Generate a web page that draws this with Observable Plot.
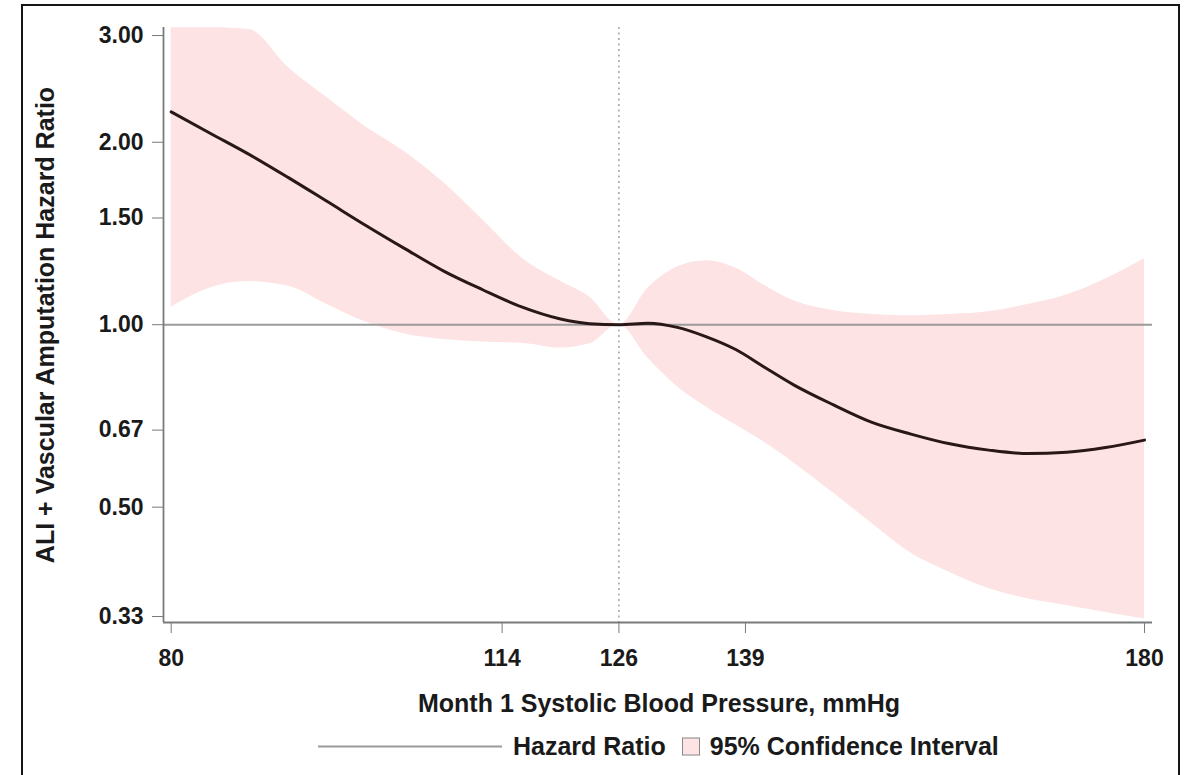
<!DOCTYPE html>
<html>
<head>
<meta charset="utf-8">
<script src="https://cdn.jsdelivr.net/npm/d3@7"></script>
<script src="https://cdn.jsdelivr.net/npm/@observablehq/plot@0.6"></script>
<style>
  html, body { margin: 0; padding: 0; background: #fff; overflow: hidden; }
  body { width: 1190px; height: 775px; position: relative; font-family: "Liberation Sans", Arial, sans-serif; }
  #border { position: absolute; left: 21px; top: 4px; width: 1159px; height: 800px; border: 2px solid #151515; border-bottom: none; box-sizing: border-box; }
  #chart { position: absolute; left: 0; top: 0; }
  .lbl { position: absolute; font-weight: bold; color: #1a1a1a; white-space: nowrap; }
  #ylabel { font-size: 25px; left: 45px; top: 325px; transform: translate(-50%, -50%) rotate(-90deg); }
  #xlabel { font-size: 25px; left: 659px; top: 703px; transform: translate(-50%, -50%); }
  #legend { position: absolute; top: 746px; left: 318px; transform: translateY(-50%); display: flex; align-items: center; font-weight: bold; font-size: 25px; color: #1a1a1a; white-space: nowrap; }
  #legend .ln { width: 184px; height: 0; border-top: 2px solid #9a9a9a; margin-right: 11px; }
  #legend .sq { width: 16px; height: 16px; background: #fde3e4; border: 1px solid #8a8a8a; margin: 0 10px 0 16px; }
</style>
</head>
<body>
<div id="border"></div>
<div id="chart"></div>
<div class="lbl" id="ylabel">ALI + Vascular Amputation Hazard Ratio</div>
<div class="lbl" id="xlabel">Month 1 Systolic Blood Pressure, mmHg</div>
<div id="legend"><div class="ln"></div><span>Hazard Ratio</span><div class="sq"></div><span>95% Confidence Interval</span></div>
<script>
// Systolic blood pressure (mmHg)
const sbp = [80, 84, 88, 92, 96, 100, 104, 108, 112, 116, 120, 123, 126, 129, 132, 135, 138, 141, 144, 148, 152, 156, 160, 164, 168, 172, 176, 180];
// Hazard ratio estimate
const hazardRatio = [2.245, 2.07, 1.91, 1.75, 1.598, 1.458, 1.335, 1.226, 1.142, 1.07, 1.022, 1.004, 1.0, 1.006, 0.99, 0.955, 0.91, 0.85, 0.795, 0.738, 0.69, 0.66, 0.636, 0.621, 0.613, 0.616, 0.627, 0.645];
// 95% CI lower / upper
const ciLower = [1.069, 1.15, 1.178, 1.158, 1.08, 1.01, 0.965, 0.945, 0.936, 0.932, 0.915, 0.93, 1.0, 0.88, 0.79, 0.731, 0.683, 0.639, 0.591, 0.528, 0.47, 0.42, 0.39, 0.367, 0.353, 0.344, 0.335, 0.327];
const ciUpper = [3.09, 3.09, 3.07, 2.66, 2.37, 2.12, 1.93, 1.715, 1.49, 1.29, 1.179, 1.11, 1.0, 1.15, 1.245, 1.275, 1.24, 1.16, 1.095, 1.055, 1.04, 1.035, 1.04, 1.05, 1.08, 1.12, 1.19, 1.285];
// Axis ticks
const xTicks = [80, 114, 126, 139, 180];
const yTicks = [0.33, 0.50, 0.67, 1.00, 1.50, 2.00, 3.00];
const refValue = 1;
const refSbp = 126;

const rows = sbp.map((x, i) => ({x, hr: hazardRatio[i], lo: ciLower[i], hi: ciUpper[i]}));
const xMin = 79.21, xMax = 180.82, yMin = 0.3226, yMax = 3.093;

const plot = Plot.plot({
  width: 1190,
  height: 680,
  marginTop: 27,
  marginLeft: 163,
  marginRight: 38,
  marginBottom: 58,
  style: {fontFamily: '"Liberation Sans", Arial, sans-serif', background: "transparent", overflow: "visible"},
  x: {domain: [xMin, xMax], ticks: xTicks, label: null},
  y: {type: "log", domain: [yMin, yMax], ticks: yTicks, tickFormat: d3.format(".2f"), label: null},
  marks: [
    Plot.areaY(rows, {x: "x", y1: "lo", y2: "hi", fill: "#fde3e4", curve: "monotone-x"}),
    Plot.ruleX([refSbp], {stroke: "#8c8c8c", strokeWidth: 1.2, strokeDasharray: "2,3.5"}),
    Plot.ruleY([refValue], {stroke: "#9a9a9a", strokeWidth: 2}),
    Plot.line(rows, {x: "x", y: "hr", stroke: "#2a1818", strokeWidth: 3, curve: "monotone-x"}),
    Plot.ruleX([xMin], {stroke: "#7a7a7a", strokeWidth: 1.8}),
    Plot.ruleY([yMin], {stroke: "#7a7a7a", strokeWidth: 1.8}),
    Plot.axisX({ticks: xTicks, tickSize: 11, tickPadding: 16, stroke: "#7a7a7a", fill: "#1a1a1a", fontSize: 23, fontWeight: "bold", label: null}),
    Plot.axisY({ticks: yTicks, tickFormat: d3.format(".2f"), tickSize: 11, tickPadding: 9, stroke: "#7a7a7a", fill: "#1a1a1a", fontSize: 23, fontWeight: "bold", label: null})
  ]
});
document.getElementById("chart").appendChild(plot);
</script>
</body>
</html>
